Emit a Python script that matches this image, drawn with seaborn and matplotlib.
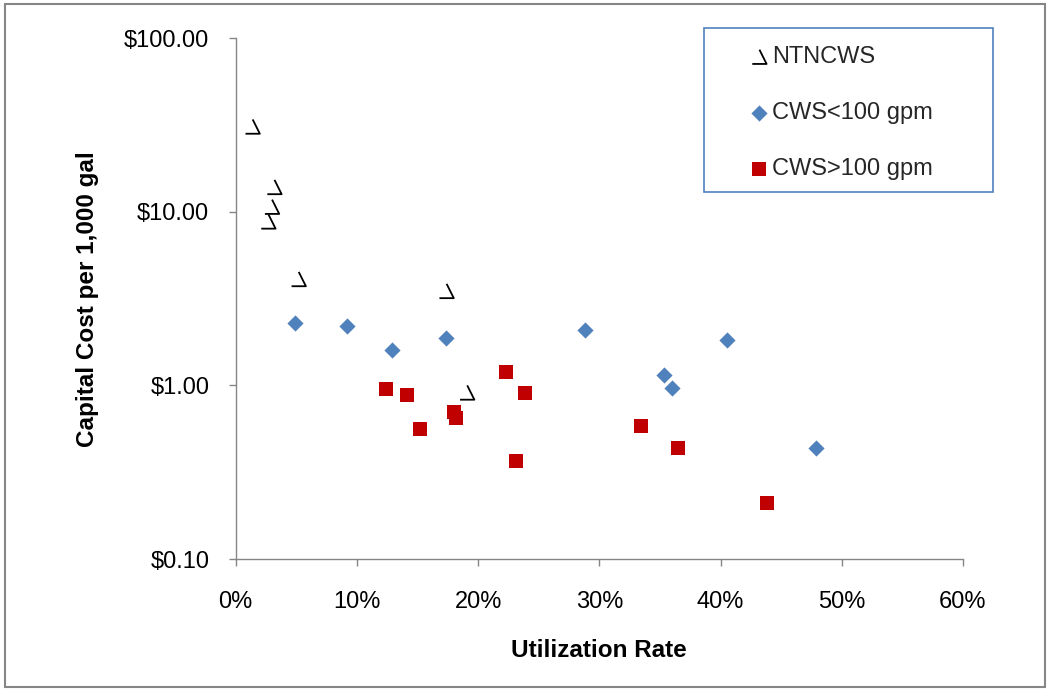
import numpy as np
import pandas as pd
import seaborn as sns
import matplotlib.pyplot as plt
from matplotlib.path import Path
from matplotlib.patches import Rectangle
from matplotlib.ticker import FuncFormatter, FixedLocator, NullLocator

# utilization rate (%) and capital cost ($ per 1,000 gal)
ntncws_x = [1.4, 3.2, 3.0, 2.7, 5.2, 17.4, 19.1]
ntncws_y = [31.0, 13.9, 10.7, 8.8, 4.1, 3.5, 0.91]

small_x = [4.9, 9.2, 12.9, 17.35, 28.8, 35.3, 36.0, 40.5, 47.85]
small_y = [2.29, 2.21, 1.61, 1.87, 2.09, 1.15, 0.965, 1.82, 0.435]

large_x = [12.4, 14.1, 15.2, 18.0, 18.2, 22.3, 23.85, 23.1, 33.4, 36.5, 43.8]
large_y = [0.957, 0.876, 0.558, 0.699, 0.645, 1.20, 0.899, 0.368, 0.583, 0.437, 0.209]

x_ticks = [0, 10, 20, 30, 40, 50, 60]
y_ticks = [0.1, 1, 10, 100]

sns.set_style('white')
plt.rcParams['font.family'] = ['Liberation Sans', 'DejaVu Sans']

AXIS_GREY = '#868686'
BLUE = '#4F81BD'
RED = '#C00000'

# the odd "hook" marker used for NTNCWS: a slash with a foot to the left
hook = Path([(0.0, 0.5), (0.5, -0.5), (-0.5, -0.5)],
            [Path.MOVETO, Path.LINETO, Path.LINETO])

fig = plt.figure(figsize=(10.47, 6.90), dpi=100)
ax = fig.add_axes([235.7 / 1047, 1 - 559 / 690, (963 - 235.7) / 1047, (559 - 38.3) / 690])

sns.scatterplot(x=ntncws_x, y=ntncws_y, marker=hook, s=106, color='black',
                edgecolor='black', linewidth=1.3, label='NTNCWS', ax=ax)
ax.collections[-1].set_facecolor('none')

sns.scatterplot(x=small_x, y=small_y, marker='D', s=68, color=BLUE,
                linewidth=0, label='CWS<100 gpm', ax=ax)
sns.scatterplot(x=large_x, y=large_y, marker='s', s=102, color=RED,
                linewidth=0, label='CWS>100 gpm', ax=ax)

ax.set_yscale('log')
ax.set_ylim(0.1, 100)
ax.set_xlim(0, 60)
ax.yaxis.set_major_locator(FixedLocator(y_ticks))
ax.yaxis.set_minor_locator(NullLocator())
ax.yaxis.set_major_formatter(FuncFormatter(lambda v, p: f'${v:,.2f}'))
ax.xaxis.set_major_locator(FixedLocator(x_ticks))
ax.xaxis.set_major_formatter(FuncFormatter(lambda v, p: f'{v:.0f}%'))

for side in ['top', 'right']:
    ax.spines[side].set_visible(False)
for side in ['left', 'bottom']:
    ax.spines[side].set_color(AXIS_GREY)
    ax.spines[side].set_linewidth(1.0)

ax.tick_params(axis='both', which='major', direction='out', length=5, width=1.0,
               color=AXIS_GREY, labelsize=17, labelcolor='black',
               bottom=True, left=True)
ax.tick_params(axis='y', pad=14)
ax.tick_params(axis='x', pad=18)

ax.set_xlabel('Utilization Rate', fontsize=17.5, fontweight='bold',
              color='black', labelpad=19)
ax.set_ylabel('Capital Cost per 1,000 gal', fontsize=17.5, fontweight='bold',
              color='black', labelpad=18)

# legend without frame, the blue box drawn separately
leg = ax.legend(loc='upper left', bbox_to_anchor=(750 / 1047, 1 - 46 / 690),
                bbox_transform=fig.transFigure, frameon=False, fontsize=17,
                handlelength=0.8, handletextpad=0.15, labelspacing=1.45,
                borderpad=0, borderaxespad=0)
fig.patches.append(Rectangle((704 / 1047, 1 - 192 / 690), 289 / 1047, 164 / 690,
                             transform=fig.transFigure, fill=False,
                             edgecolor=BLUE, linewidth=1.2))

# outer chart border
fig.patches.append(Rectangle((5 / 1047, 3 / 690), 1040 / 1047, 683 / 690,
                             transform=fig.transFigure, fill=False,
                             edgecolor=AXIS_GREY, linewidth=1.5))

fig.savefig('out.png', dpi=100)
